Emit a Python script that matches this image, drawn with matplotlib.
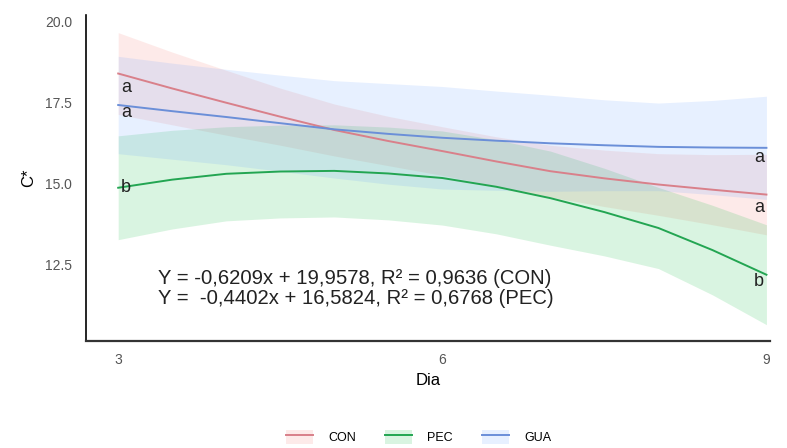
import numpy as np
import matplotlib
matplotlib.use("Agg")
import matplotlib.pyplot as plt
from matplotlib.lines import Line2D
from matplotlib.patches import Patch

plt.rcParams['font.family'] = ['Liberation Sans', 'DejaVu Sans']

# dias (leitura a cada 0,5)
dia = [3, 3.5, 4, 4.5, 5, 5.5, 6, 6.5, 7, 7.5, 8, 8.5, 9]

# curvas suavizadas
con = [18.39, 17.93, 17.49, 17.06, 16.65, 16.31, 16.00, 15.68, 15.38, 15.16, 14.97, 14.81, 14.66]
pec = [14.87, 15.12, 15.30, 15.37, 15.39, 15.31, 15.17, 14.90, 14.55, 14.12, 13.63, 12.95, 12.19]
gua = [17.42, 17.23, 17.05, 16.86, 16.67, 16.53, 16.41, 16.32, 16.24, 16.18, 16.13, 16.11, 16.10]

# meia largura das faixas de confianca
con_se = [1.26, 1.12, 1.00, 0.88, 0.80, 0.76, 0.75, 0.76, 0.80, 0.87, 0.95, 1.08, 1.24]
pec_se = [1.60, 1.52, 1.45, 1.43, 1.42, 1.43, 1.45, 1.45, 1.45, 1.35, 1.25, 1.38, 1.54]
gua_se = [1.50, 1.48, 1.47, 1.48, 1.50, 1.55, 1.58, 1.53, 1.48, 1.40, 1.35, 1.45, 1.59]

# letras de significancia
letras = ['a', 'a', 'b', 'a', 'a', 'b']
letras_x = [3.07, 3.07, 3.07, 8.93, 8.93, 8.93]
letras_y = [17.95, 17.19, 14.88, 15.80, 14.27, 11.98]

grupos = ['CON', 'PEC', 'GUA']
series = [con, pec, gua]
erros = [con_se, pec_se, gua_se]
cor_linha = ['#d9808a', '#23a552', '#6b8fd8']
cor_fill = ['#F8766D', '#00BA38', '#619CFF']

equacoes = ("Y = -0,6209x + 19,9578, R\u00b2 = 0,9636 (CON)\n"
            "Y =  -0,4402x + 16,5824, R\u00b2 = 0,6768 (PEC)")

fig = plt.figure(figsize=(7.87, 4.48), dpi=100)
ax = fig.add_axes([0.109, 0.239, 0.869, 0.728])

x = np.array(dia)
for y, se, cl, cf in zip(series, erros, cor_linha, cor_fill):
    y = np.array(y)
    se = np.array(se)
    ax.fill_between(x, y - se, y + se, color=cf, alpha=0.15, linewidth=0)
for y, cl in zip(series, cor_linha):
    ax.plot(x, y, color=cl, linewidth=1.4)

for t, lx, ly in zip(letras, letras_x, letras_y):
    ax.text(lx, ly, t, fontsize=13, ha='center', va='center', color='#222222')

ax.text(0.105, 0.161, equacoes, transform=ax.transAxes, fontsize=14.6,
        ha='left', va='center', color='#222222', linespacing=1.08)

ax.set_xlim(2.7, 9.03)
ax.set_ylim(10.15, 20.2)
ax.set_xticks([3, 6, 9])
ax.set_yticks([12.5, 15.0, 17.5, 20.0])
ax.set_yticklabels(['12.5', '15.0', '17.5', '20.0'])
ax.tick_params(length=0, labelsize=10, labelcolor='#555555', pad=9)
ax.tick_params(axis='y', pad=10)
for s in ['top', 'right']:
    ax.spines[s].set_visible(False)
ax.spines['left'].set_linewidth(1.2)
ax.spines['bottom'].set_linewidth(1.6)
ax.spines['bottom'].set_color('#333333')
ax.set_xlabel('Dia', fontsize=12, labelpad=4)
ax.set_ylabel('C*', fontsize=12, labelpad=6)

handles = [(Patch(facecolor=cf, alpha=0.15, edgecolor='none'),
            Line2D([], [], color=cl, linewidth=1.4))
           for cl, cf in zip(cor_linha, cor_fill)]
fig.legend(handles, grupos, loc='center', bbox_to_anchor=(0.532, 0.025), ncol=3,
           frameon=False, fontsize=9, handlelength=2.2, handleheight=1.4,
           columnspacing=2.3, handletextpad=1.2)

fig.savefig('out.png', dpi=100)
